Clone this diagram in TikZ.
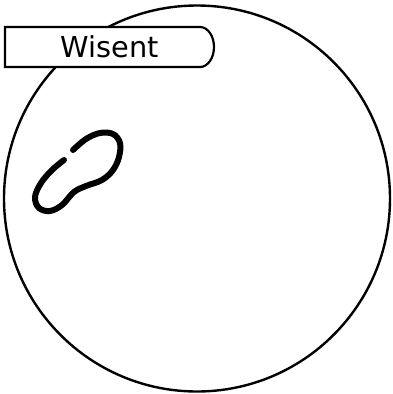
\documentclass[tikz,border=0pt]{standalone}
\usepackage{fontspec}
\setsansfont{DejaVu Sans}
\usetikzlibrary{positioning}

\begin{document}
\begin{tikzpicture}[
  x=0.25mm, y=-0.25mm,
  font=\sffamily,
  rim/.style={draw=black, line width=0.6mm},
  tagbox/.style={draw=black, line width=0.55mm, fill=white},
  tagtext/.style={font=\sffamily\fontsize{20.5}{24}\selectfont, inner sep=0pt},
  mark stroke/.style={draw=black, line width=1.5mm, line cap=round},
]
\useasboundingbox (0,0) rectangle (393,394);

% ---------- outer ring ----------
\draw[rim] (197,198.5) circle (193);

% ---------- blob ----------
\draw[mark stroke] plot[smooth, tension=0.6] coordinates {
  (73,150) (86,139) (100,133) (113,134) (120,143) (119,157) (113,170)
  (102,180) (86,186) (74,192) (62,205) (50,211) (39,208) (35,197)
  (41,183) (52,170) (64,160)};

% ---------- tag ----------
\draw[tagbox] (5,27) -- (200,27) arc (-90:90:14 and 20) -- (5,67) -- cycle;
\node[tagtext] (tag) at (109.5,47) {Wisent};

\end{tikzpicture}
\end{document}
